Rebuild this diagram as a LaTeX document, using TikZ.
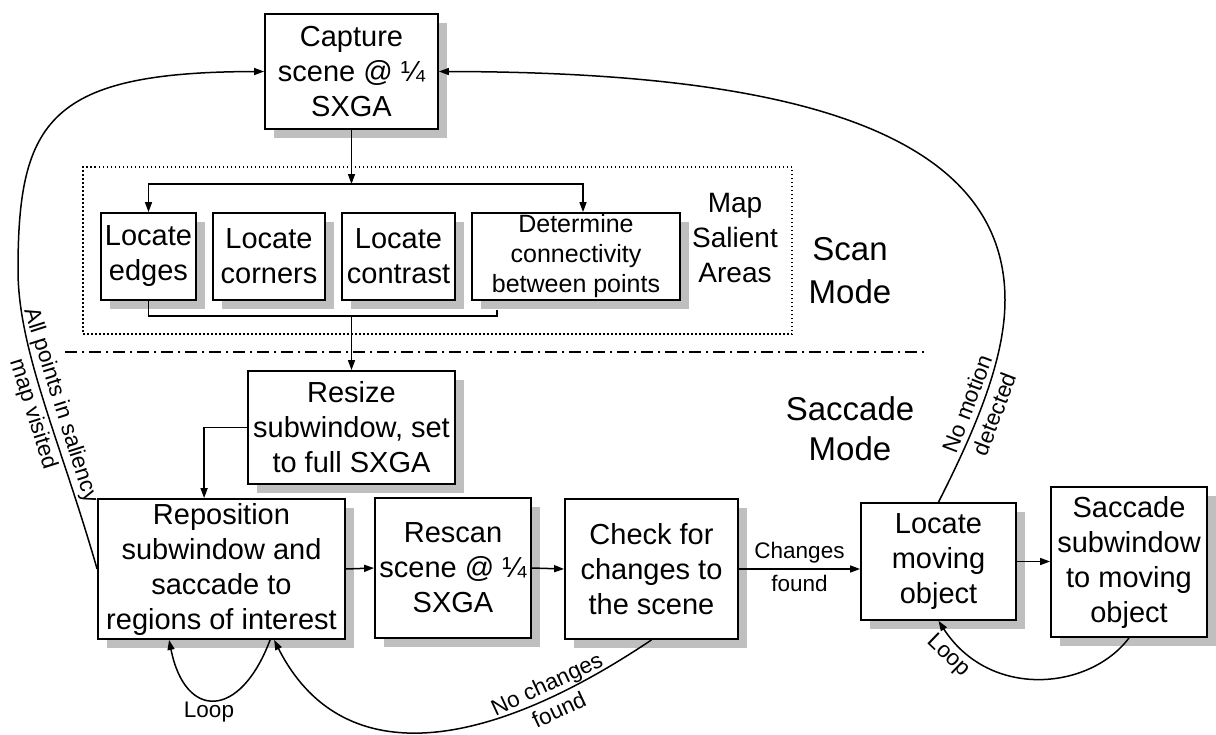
\documentclass[tikz,border=0pt]{standalone}
\usepackage{fontspec}
\setmainfont{Liberation Sans}
\usetikzlibrary{arrows.meta,shadows,calc}
\begin{document}
\begin{tikzpicture}[x=1pt,y=-1pt,
  box/.style={draw, line width=1.8pt, fill=white, align=center, inner sep=1pt,
    drop shadow={shadow xshift=9pt, shadow yshift=-9pt, fill=black!25, opacity=1},
    font=\fontsize{29}{35}\selectfont},
  conn/.style={line width=1.5pt},
  arr/.style={conn, -{Triangle[length=10pt,width=7pt]}},
  lbl/.style={font=\fontsize{22.5}{29}\selectfont, align=center, inner sep=0pt},
  modelbl/.style={font=\fontsize{33}{42}\selectfont, align=center, inner sep=0pt},
]
\useasboundingbox (0,0) rectangle (1216,734);

% scan-mode region and the mode divider
\node[draw, line width=1.3pt, dash pattern=on 1.5pt off 2.5pt,
      minimum width=709pt, minimum height=167pt, inner sep=0pt] (scanbox) at (437.5,250.5) {};
\coordinate (divL) at (65,352);
\coordinate (divR) at (924,352);
\draw[line width=1.3pt, dash pattern=on 12pt off 5pt on 2pt off 5pt] (divL) -- (divR);

% process boxes
\node[box, minimum width=173pt, minimum height=115pt] (cap) at (351.5,71.5) {Capture\\scene @ ¼\\SXGA};
\node[box, minimum width=95pt, minimum height=87pt] (edg) at (148.5,256.5) {Locate\\edges};
\node[box, minimum width=112pt, minimum height=87pt] (cor) at (269,256.5) {Locate\\corners};
\node[box, minimum width=113pt, minimum height=87pt] (con) at (398.5,256.5) {Locate\\contrast};
\node[box, minimum width=208pt, minimum height=87pt, font=\fontsize{25}{30}\selectfont] (det) at (576,256.5) {Determine\\connectivity\\between points};
\node[box, minimum width=207pt, minimum height=113pt] (res) at (351.5,427.5) {Resize\\subwindow, set\\to full SXGA};
\node[box, minimum width=247pt, minimum height=140pt] (repo) at (221.5,569) {Reposition\\subwindow and\\saccade to\\regions of interest};
\node[box, minimum width=156pt, minimum height=140pt] (rescan) at (453,568) {Rescan\\scene @ ¼\\SXGA};
\node[box, minimum width=173pt, minimum height=140pt] (check) at (651.5,569) {Check for\\changes to\\the scene};
\node[box, minimum width=155pt, minimum height=117pt] (loc) at (938.5,561.5) {Locate\\moving\\object};
\node[box, minimum width=156pt, minimum height=150pt] (sac) at (1129,562) {Saccade\\subwindow\\to moving\\object};

% region captions
\node[font=\fontsize{28}{35}\selectfont, align=center, inner sep=0pt] (msa) at (735,238) {Map\\Salient\\Areas};
\node[modelbl, font=\fontsize{33}{43}\selectfont] (scanm) at (850,271) {Scan\\Mode};
\node[modelbl, font=\fontsize{33}{40}\selectfont] (sacm) at (850,429) {Saccade\\Mode};

% scan-mode fan-out and merge
\coordinate (split) at (351.5,184);
\coordinate (merge) at (351.5,316);
\draw[arr] (cap.south) -- (split);
\draw[arr] (split) -| (edg.north);
\draw[arr] (split) -| ($(det.north)+(7,0)$);
\draw[conn] (edg.south) |- (merge);
\draw[conn] ($(det.south west)+(26,9)$) |- (merge);
\draw[arr] (merge) -- (res.north);

% saccade-mode chain
\draw[arr] (res.west) -| ($(repo.north west)+(107,0)$);
\draw[arr] (repo.east) -- (rescan.west);
\draw[arr] (rescan.east) -- (check.west);
\draw[arr] (check.east) -- node[lbl, above=5pt] (chg) {Changes} node[lbl, below=5pt] (chgf) {found} (check.east -| loc.west);
\draw[arr] (loc.east) -- (loc.east -| sac.west);

% feedback paths, labels riding on the curves
\draw[arr] (repo.west) .. controls (60,440) and (18,350) .. (18,270)
  node[lbl, sloped, pos=0.47] (allpts) {All points in saliency\\map visited}
  .. controls (18,120) and (50,72) .. (cap.west);

\draw[arr] (loc.north) .. controls (975,430) and (1005,360) .. (1005,300)
  node[lbl, sloped, pos=0.44] (nomot) {No motion\\detected}
  .. controls (1005,120) and (760,72) .. (cap.east);

\draw[arr] (check.south) .. controls (480,755) and (340,770) .. ($(repo.south west)+(177,0)$)
  node[lbl, sloped, pos=0.2] (nochg) {No changes\\found};

\draw[arr] ($(repo.south west)+(173,0)$) .. controls (240,720) and (185,720) .. ($(repo.south west)+(72,0)$);
\node[lbl] (loop1) at (209,712) {Loop};

\draw[arr] (sac.south) .. controls (1090,690) and (990,700) .. (loc.south);
\node[lbl, rotate=-44] (loop2) at (948,656) {Loop};
\end{tikzpicture}
\end{document}
